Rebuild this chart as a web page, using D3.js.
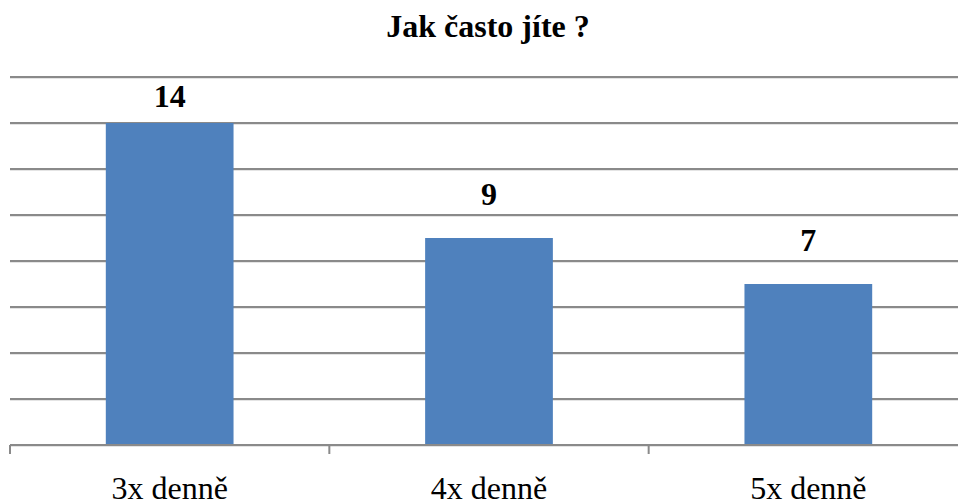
<!DOCTYPE html>
<html>
<head>
<meta charset="utf-8">
<script src="https://cdn.jsdelivr.net/npm/d3@7"></script>
</head>
<body style="margin:0">
<svg id="chart" width="958" height="503" style="display:block; font-family:'Liberation Serif'"></svg>
<script>
// Chart data
const categories = ["3x denně", "4x denně", "5x denně"];
const values = [14, 9, 7];
const yTicks = [0, 2, 4, 6, 8, 10, 12, 14, 16];
const title = "Jak často jíte ?";

const svg = d3.select("#chart");
const plot = { left: 10, right: 968, top: 77, bottom: 445 };
const serif = "'Liberation Serif'";

const x = d3.scaleBand().domain(categories).range([plot.left, plot.right]).padding(0);
const y = d3.scaleLinear().domain([0, 16]).range([plot.bottom, plot.top]);
const barW = x.bandwidth() * 0.4;

// Horizontal gridlines (with soft shadow)
const grid = svg.append("g");
yTicks.filter(d => d > 0).forEach(d => {
  grid.append("line")
    .attr("x1", plot.left).attr("x2", plot.right)
    .attr("y1", y(d) + 1.5).attr("y2", y(d) + 1.5)
    .attr("stroke", "#e4e4e4").attr("stroke-width", 1);
  grid.append("line")
    .attr("x1", plot.left).attr("x2", plot.right)
    .attr("y1", y(d)).attr("y2", y(d))
    .attr("stroke", "#8a8a8a").attr("stroke-width", 2);
});

// Bars
svg.append("g").selectAll("rect")
  .data(values)
  .join("rect")
  .attr("x", (d, i) => x(categories[i]) + (x.bandwidth() - barW) / 2)
  .attr("y", d => y(d))
  .attr("width", barW)
  .attr("height", d => y(0) - y(d))
  .attr("fill", "#4F81BD");

// Category axis
const xAxis = d3.axisBottom(x).tickSize(0).tickPadding(0);
const axisG = svg.append("g").attr("transform", `translate(0,${plot.bottom})`);
axisG.append("line")
  .attr("x1", plot.left).attr("x2", plot.right)
  .attr("y1", 1.5).attr("y2", 1.5)
  .attr("stroke", "#e4e4e4").attr("stroke-width", 1);
axisG.call(xAxis);
axisG.select(".domain").remove();
axisG.attr("font-family", null).attr("font-size", null);
axisG.append("line")
  .attr("x1", plot.left).attr("x2", plot.right)
  .attr("y1", 0).attr("y2", 0)
  .attr("stroke", "#8a8a8a").attr("stroke-width", 2);
// Tick marks at band boundaries
const bounds = categories.map(c => x(c)).concat([plot.right]);
axisG.selectAll("line.bound")
  .data(bounds)
  .join("line")
  .attr("class", "bound")
  .attr("x1", d => d).attr("x2", d => d)
  .attr("y1", 0).attr("y2", 9)
  .attr("stroke", "#8a8a8a").attr("stroke-width", 2);
axisG.selectAll(".tick text")
  .attr("y", 54)
  .attr("dy", 0)
  .style("font-family", serif)
  .attr("font-size", 32)
  .attr("fill", "#000");

// Value labels (kept inside the plot area)
svg.append("g").selectAll("text")
  .data(values)
  .join("text")
  .attr("x", (d, i) => x(categories[i]) + x.bandwidth() / 2)
  .attr("y", d => Math.max(y(d) - 33, plot.top + 30))
  .attr("text-anchor", "middle")
  .style("font-family", serif)
  .attr("font-weight", "bold")
  .attr("font-size", 32)
  .attr("fill", "#000")
  .text(d => d);

// Title
svg.append("text")
  .attr("x", 488).attr("y", 37)
  .attr("text-anchor", "middle")
  .style("font-family", serif)
  .attr("font-weight", "bold")
  .attr("font-size", 32)
  .attr("fill", "#000")
  .text(title);
</script>
</body>
</html>
